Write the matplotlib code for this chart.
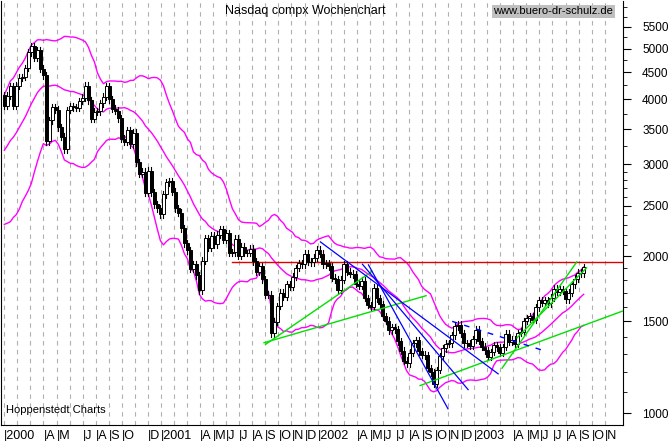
import numpy as np
import matplotlib
matplotlib.use("Agg")
import matplotlib.pyplot as plt
from matplotlib.ticker import FixedLocator, NullFormatter

# weekly closes, 20 weeks of late 1999 (for the bands) then 2000-01 .. 2003-09
pre_1999 = [2648, 2758, 2738, 2887, 2869, 2740, 2736, 2886, 2801, 2816,
            2875, 2967, 3221, 3369, 3447, 3520, 3620, 3716, 3904, 4069]
closes = [
    3882, 4064, 4235, 3887, 4244, 4395, 4411, 4590, 4914, 5048, 4798, 4963, 4573,
    4446, 3321, 3643, 3860, 3817, 3529, 3390, 3205, 3813, 3874, 3860, 3845, 3966,
    4023, 4246, 3981, 3663, 3787, 3789, 3930, 4042, 4234, 3998, 3835, 3803, 3673,
    3361, 3316, 3483, 3278, 3451, 3028, 2875, 2904, 2645, 2917, 2653, 2517, 2471,
    2407, 2626, 2770, 2781, 2660, 2470, 2425, 2262, 2117, 2052, 1890, 1928, 1840,
    1720, 1961, 2164, 2075, 2191, 2107, 2198, 2251, 2149, 2215, 2029, 2034, 2161,
    2004, 2084, 2029, 2029, 2066, 1956, 1867, 1916, 1805, 1687, 1687, 1423, 1499,
    1605, 1703, 1671, 1768, 1746, 1828, 1898, 1941, 1930, 2021, 1953, 1945, 1987,
    2059, 2022, 1930, 1937, 1911, 1818, 1805, 1725, 1802, 1929, 1868, 1852, 1845,
    1770, 1756, 1796, 1663, 1613, 1600, 1741, 1661, 1616, 1535, 1505, 1441, 1463,
    1448, 1374, 1319, 1262, 1247, 1306, 1361, 1381, 1315, 1295, 1291, 1221, 1199,
    1139, 1211, 1287, 1331, 1360, 1361, 1411, 1468, 1478, 1422, 1362, 1363, 1348,
    1387, 1447, 1376, 1342, 1320, 1282, 1310, 1349, 1337, 1305, 1340, 1421, 1370,
    1383, 1358, 1425, 1434, 1502, 1521, 1536, 1510, 1596, 1646, 1627, 1645, 1625,
    1664, 1733, 1708, 1731, 1715, 1653, 1702, 1766, 1811, 1858, 1855, 1905]

month_labels = ["2000", "", "", "A", "M", "", "J", "A", "S", "O", "", "D",
                "2001", "", "", "A", "M", "J", "J", "A", "S", "O", "N", "D",
                "2002", "", "", "A", "M", "J", "J", "A", "S", "O", "N", "D",
                "2003", "", "", "A", "M", "J", "J", "A", "S", "O", "N"]

# trend lines (week, price)
green_lines = [((87.0, 1355), (122.5, 1870)), ((86.5, 1365), (140.5, 1680)),
               ((138.5, 1130), (206, 1570)), ((165.8, 1220), (190.7, 1950)),
               ((170.8, 1395), (194.0, 1900))]
blue_lines = [((105.3, 2130), (164.5, 1190)), ((119.3, 1930), (154.5, 1110)),
              ((121.3, 1925), (147.8, 1020))]
blue_dashed = [((149.2, 1500), (179.4, 1320))]
hline_price = 1953

allc = np.array(pre_1999 + closes, float)
n_pre = len(pre_1999)
W = 20
mid, up, lo = [], [], []
for i in range(n_pre, len(allc)):
    win = allc[max(0, i - W + 1):i + 1]
    m, s = win.mean(), win.std()
    mid.append(m); up.append(m + 2 * s); lo.append(m - 2 * s)
weeks = np.arange(len(closes))
opens = allc[n_pre - 1:-1]
cl = np.array(closes, float)

fig = plt.figure(figsize=(6.71, 4.41), dpi=100)
ax = fig.add_axes([0.002, 0.036, 0.926, 0.962])
ax.set_yscale("log")
ax.set_ylim(949, 6170)
ax.set_xlim(-1, 206)

month_pos = [i * 4.348 for i in range(len(month_labels))]
for p in month_pos:
    ax.axvline(p, color="#b0b0b0", ls=(0, (4, 4)), lw=0.8, zorder=0)

ax.plot(weeks, up, color="#ff00ff", lw=1)
ax.plot(weeks, mid, color="#ff00ff", lw=1)
ax.plot(weeks, lo, color="#ff00ff", lw=1)

for w, o, c in zip(weeks, opens, cl):
    hi, lw_ = max(o, c), min(o, c)
    ax.plot([w, w], [lw_ * 0.985, hi * 1.015], color="black", lw=0.8, zorder=3)
    ax.bar(w, hi - lw_, bottom=lw_, width=0.8,
           color=("white" if c >= o else "black"), edgecolor="black", lw=0.7, zorder=4)

ax.axhline(hline_price, xmin=(76 + 1) / 207, color="#e00000", lw=1, zorder=2)
for (a, b) in green_lines:
    ax.plot([a[0], b[0]], [a[1], b[1]], color="#00e000", lw=1, zorder=5)
for (a, b) in blue_lines:
    ax.plot([a[0], b[0]], [a[1], b[1]], color="#0000ff", lw=0.9, zorder=5)
for (a, b) in blue_dashed:
    ax.plot([a[0], b[0]], [a[1], b[1]], color="#0000ff", lw=1, ls=(0, (4, 5)), zorder=5)

ax.yaxis.tick_right()
major = [1000, 1500, 2000, 2500, 3000, 3500, 4000, 4500, 5000, 5500]
ax.yaxis.set_major_locator(FixedLocator(major))
ax.set_yticklabels([str(v) for v in major], fontsize=8.5, family="Liberation Sans")
minor = list(range(1000, 3000, 100)) + list(range(3000, 6200, 250))
ax.yaxis.set_minor_locator(FixedLocator(minor))
ax.yaxis.set_minor_formatter(NullFormatter())
ax.tick_params(axis="y", which="major", length=6, pad=8)
ax.tick_params(axis="y", which="minor", length=3)

ax.set_xticks(month_pos)
ax.set_xticklabels([])
ax.tick_params(axis="x", length=0)
for p, lab in zip(month_pos, month_labels):
    ax.text(p, -0.012, "|" + lab if lab else "", transform=ax.get_xaxis_transform(),
            ha="left", va="top", fontsize=9, family="Liberation Sans")

ax.text(0.49, 0.975, "Nasdaq compx Wochenchart", transform=ax.transAxes,
        ha="center", va="center", fontsize=9, family="Liberation Sans")
ax.text(0.985, 0.975, "www.buero-dr-schulz.de", transform=ax.transAxes, ha="right",
        va="center", fontsize=8, family="Liberation Sans",
        bbox=dict(facecolor="#c0c0c0", edgecolor="none", pad=1))
ax.text(0.008, 0.035, "Hoppenstedt Charts", transform=ax.transAxes, ha="left",
        va="center", fontsize=8, family="Liberation Sans")
ax.spines["top"].set_visible(False)
fig.savefig("out.png", dpi=100)
